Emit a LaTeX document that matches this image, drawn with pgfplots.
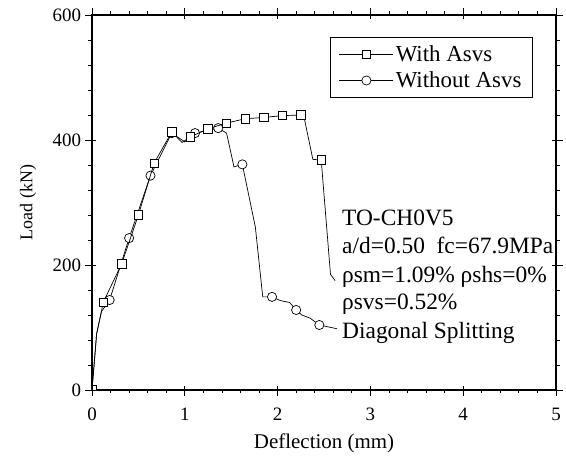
\documentclass[border=0pt]{standalone}
\usepackage{fontspec}
\setmainfont{Liberation Serif}
\usepackage{pgfplots}
\usepackage{pgfplotstable}
\pgfplotsset{compat=1.18}

\pgfplotstableread{
x y
0 0
0.05 90
0.10 124
0.12 140
0.32 202
0.50 280
0.67 363
0.86 413
0.97 396
1.06 405
1.25 418
1.45 427
1.65 434
1.85 436
2.05 439
2.25 440
2.28 440
2.38 369
2.47 368
2.57 185
2.62 175
}\withasvs

\pgfplotstableread{
x y
0 0
0.05 90
0.10 125
0.19 144
0.40 243
0.63 343
0.86 411
1.00 397
1.11 411
1.36 419
1.45 411
1.53 357
1.62 361
1.76 261
1.84 149
1.94 149
2.03 143
2.13 140
2.20 128
2.26 120
2.35 115
2.45 104
2.64 98
}\withoutasvs

\begin{document}
\begin{tikzpicture}
\begin{axis}[
  name=ax,
  scale only axis,
  width=464bp, height=375bp,
  xmin=0, xmax=5, ymin=0, ymax=600,
  xtick={0,1,2,3,4,5},
  ytick={0,200,400,600},
  minor x tick num=4,
  minor y tick num=4,
  tick align=outside,
  major tick length=6.5bp,
  minor tick length=3.5bp,
  axis line style={line width=1.1bp},
  every tick/.style={black, line width=0.8bp},
  tick label style={font=\fontsize{19}{21}\selectfont},
  xticklabel style={yshift=-8bp},
  yticklabel style={xshift=-1bp},
  /pgf/number format/assume math mode=true,
  xlabel={Deflection (mm)},
  ylabel={Load (kN)},
  xlabel style={at={(axis description cs:0.5,-0.1547)}, anchor=base, font=\fontsize{21}{24}\selectfont},
  ylabel style={at={(axis description cs:-0.1287,0.5)}, anchor=base, font=\fontsize{18}{20}\selectfont},
  clip marker paths=true,
  legend style={at={(axis description cs:0.950,0.941)}, anchor=north east,
    draw=black, line width=0.6bp, fill=white,
    font=\fontsize{23}{25}\selectfont,
    cells={anchor=west}, row sep=5bp, inner xsep=9bp, inner ysep=6bp},
  legend image code/.code={\draw[mark repeat=2,mark phase=2,#1] plot coordinates {(0bp,0bp)(27bp,0bp)(54bp,0bp)};},
]
\addlegendimage{black, line width=0.7bp, mark=square*, mark size=4.2bp, mark options={fill=white, solid, line width=0.7bp}}
\addlegendentry{With Asvs}
\addlegendimage{black, line width=0.7bp, mark=*, mark size=4.6bp, mark options={fill=white, solid, line width=0.7bp}}
\addlegendentry{Without Asvs}

\addplot[black, line width=0.7bp, mark=*, mark size=4.6bp, mark options={fill=white, line width=0.7bp},
  mark indices={4,5,6,7,9,10,13,16,19,22}, forget plot] table[x=x,y=y] {\withoutasvs};
\addplot[black, line width=0.7bp, mark=square*, mark size=4.2bp, mark options={fill=white, line width=0.7bp},
  mark indices={1,4,5,6,7,8,10,11,12,13,14,15,16,19}, forget plot] table[x=x,y=y] {\withasvs};

\node[anchor=base west, font=\fontsize{23.5}{25}\selectfont, inner sep=0pt] at (axis cs:2.694,263) {TO-CH0V5};
\node[anchor=base west, font=\fontsize{23.5}{25}\selectfont, inner sep=0pt] at (axis cs:2.694,217.6) {a/d=0.50\ \ fc=67.9MPa};
\node[anchor=base west, font=\fontsize{23.5}{25}\selectfont, inner sep=0pt] at (axis cs:2.694,172) {ρsm=1.09\% ρshs=0\%};
\node[anchor=base west, font=\fontsize{23.5}{25}\selectfont, inner sep=0pt] at (axis cs:2.694,128) {ρsvs=0.52\%};
\node[anchor=base west, font=\fontsize{23.5}{25}\selectfont, inner sep=0pt] at (axis cs:2.694,83) {Diagonal Splitting};
\end{axis}
\begin{axis}[
  at={(ax.south west)}, anchor=south west,
  scale only axis,
  width=464bp, height=375bp,
  xmin=0, xmax=5, ymin=0, ymax=600,
  xtick={0,1,2,3,4,5},
  ytick={0,200,400,600},
  minor tick num=0,
  tick align=inside,
  major tick length=4bp,
  every tick/.style={black, line width=0.8bp},
  xticklabels={}, yticklabels={},
  axis line style={draw=none},
]
\end{axis}
\pgfresetboundingbox
\path[use as bounding box] ([xshift=-92bp,yshift=-66bp]ax.south west) rectangle ([xshift=10bp,yshift=15bp]ax.north east);
\end{tikzpicture}
\end{document}
